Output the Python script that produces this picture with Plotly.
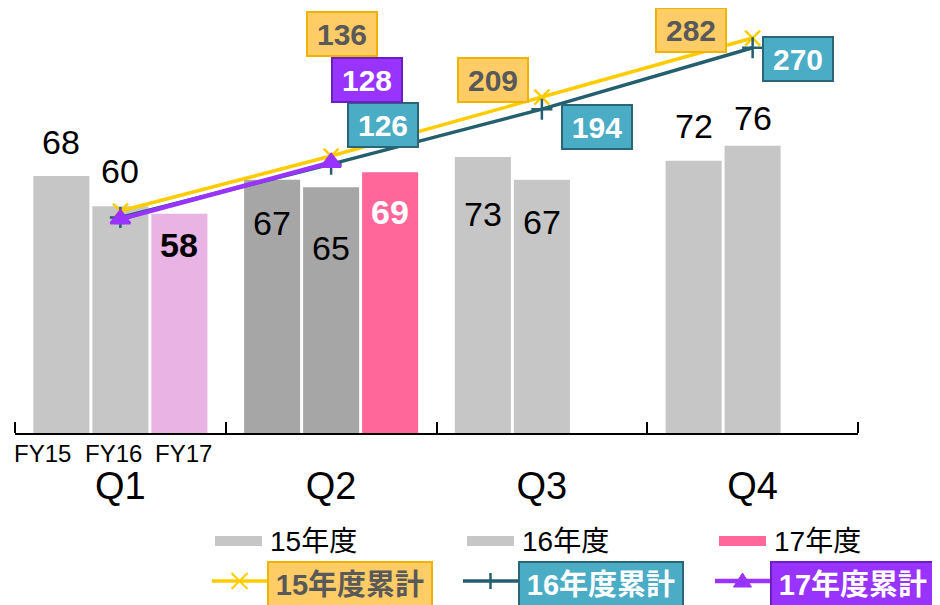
import plotly.graph_objects as go

# ---------------- data ----------------
quarters = ["Q1", "Q2", "Q3", "Q4"]
fy_labels = ["FY15", "FY16", "FY17"]
fy15 = [68, 67, 73, 72]
fy16 = [60, 65, 67, 76]
fy17 = [58, 69, None, None]
cum15 = [68, 136, 209, 282]
cum16 = [60, 126, 194, 270]
cum17 = [58, 128, None, None]
bar_names = ["15年度", "16年度", "17年度"]
line_names = ["15年度累計", "16年度累計", "17年度累計"]

# ---------------- styles ----------------
FONT = "Liberation Sans, Arial, Noto Sans CJK JP, sans-serif"
GRAY = "#c6c6c6"
DGRAY = "#a6a6a6"
LPINK = "#e9b3e3"
PINK = "#ff6699"
GOLD = "#ffcc00"
TEAL = "#245f6e"
PURPLE = "#9933ff"

OFF = 8  # page body margin
W, H = 940, 605
# desired plot area in screen pixels
SX0, SX1, SY0, SY1 = 15, 858, 10, 433
ML, MT = SX0 - OFF, SY0 - OFF
PW, PH = SX1 - SX0, SY1 - SY0
MR, MB = W - ML - PW, H - MT - PH
BARGAP = 0.16
TICKLEN = 11
PX_PER_UNIT_Y1 = 3.78
PX_PER_UNIT_Y2 = 0.8084
Y2_ZERO_SCREEN = 266

y1_max = PH / PX_PER_UNIT_Y1
y2_min = -(SY1 - Y2_ZERO_SCREEN) / PX_PER_UNIT_Y2
y2_max = (Y2_ZERO_SCREEN - SY0) / PX_PER_UNIT_Y2

cat_px = PW / len(quarters)
slot = cat_px * (1 - BARGAP) / 3


def P(x, y):
    """screen pixel -> paper coords"""
    return (x - SX0) / PW, (SY1 - y) / PH


fig = go.Figure()

bar_colors = [
    [GRAY, DGRAY, GRAY, GRAY],
    [GRAY, DGRAY, GRAY, GRAY],
    [LPINK, PINK, PINK, PINK],
]
for name, vals, cols in zip(bar_names, [fy15, fy16, fy17], bar_colors):
    fig.add_trace(go.Bar(x=quarters, y=vals, name=name, marker=dict(color=cols, line=dict(width=0)),
                         yaxis="y", hoverinfo="skip"))

line_styles = [
    dict(color=GOLD, width=3.5, symbol="x-thin", msize=15),
    dict(color=TEAL, width=3.5, symbol="cross-thin", msize=15),
    dict(color=PURPLE, width=4.5, symbol="triangle-up", msize=17),
]
for name, vals, st in zip(line_names, [cum15, cum16, cum17], line_styles):
    fig.add_trace(go.Scatter(
        x=quarters, y=vals, name=name, yaxis="y2", mode="lines+markers",
        line=dict(color=st["color"], width=st["width"]),
        marker=dict(symbol=st["symbol"], size=st["msize"], color=st["color"],
                    line=dict(color=st["color"], width=2.5)),
        connectgaps=False, hoverinfo="skip"))

annotations = []

# bar value labels: (yshift px, bold, color)
bar_label_style = {
    0: [(34, False, "black"), (-43, False, "black"), (-57, False, "black"), (35, False, "black")],
    1: [(35, False, "black"), (-61, False, "black"), (-42, False, "black"), (28, False, "black")],
    2: [(-31, True, "black"), (-40, True, "white"), None, None],
}
for si, vals in enumerate([fy15, fy16, fy17]):
    for qi, v in enumerate(vals):
        if v is None:
            continue
        ys, bold, col = bar_label_style[si][qi]
        txt = f"<b>{v}</b>" if bold else str(v)
        annotations.append(dict(x=quarters[qi], y=v, xref="x", yref="y", text=txt,
                                showarrow=False, xshift=(si - 1) * slot, yshift=ys,
                                yanchor="middle", xanchor="center",
                                font=dict(size=34, color=col, family=FONT)))

# cumulative labels: offsets (dx, dy) per point
cum_label_offsets = [
    [None, (10.5, 121.6), (-49, 17), (-62, 8)],
    [None, (51.5, 39), (55, -18), (45, -11)],
    [None, (35.5, 82.5), None, None],
]
cum_box = [
    dict(bg="#ffcc66", border="#f0b400", fc="#595959"),
    dict(bg="#4bacc6", border="#2a6677", fc="white"),
    dict(bg="#9933ff", border="#6a1fc0", fc="white"),
]
for si, vals in enumerate([cum15, cum16, cum17]):
    for qi, v in enumerate(vals):
        off = cum_label_offsets[si][qi]
        if v is None or off is None:
            continue
        b = cum_box[si]
        annotations.append(dict(x=quarters[qi], y=v, xref="x", yref="y2", text=f"<b>{v}</b>",
                                showarrow=False, xshift=off[0], yshift=off[1],
                                xanchor="center", yanchor="middle",
                                width=64, height=38, borderpad=2, borderwidth=2,
                                bgcolor=b["bg"], bordercolor=b["border"],
                                font=dict(size=30, color=b["fc"], family=FONT)))

# FY labels under Q1
for lab, xs in zip(fy_labels, [-78, -6.5, 63.5]):
    annotations.append(dict(x=quarters[0], xref="x", y=P(0, 453)[1], yref="paper", text=lab,
                            showarrow=False, xshift=xs, xanchor="center", yanchor="middle",
                            font=dict(size=24, color="black", family=FONT)))

shapes = []
# end ticks of the category axis (outer boundaries)
for xe in (0, 1):
    shapes.append(dict(type="line", xref="paper", yref="paper", x0=xe, x1=xe,
                       y0=0, y1=TICKLEN / PH, line=dict(color="black", width=2)))

# legend row 1: bars
leg_bar_cols = [GRAY, GRAY, PINK]
leg_x = [215, 467, 719]
for name, col, lx in zip(bar_names, leg_bar_cols, leg_x):
    x0, y0 = P(lx, 546)
    x1, y1 = P(lx + 47, 536)
    shapes.append(dict(type="rect", xref="paper", yref="paper", x0=x0, x1=x1, y0=y0, y1=y1,
                       fillcolor=col, line=dict(width=0)))
    tx, ty = P(lx + 53, 541)
    annotations.append(dict(x=tx, y=ty, xref="paper", yref="paper", text=name, showarrow=False,
                            xanchor="left", yanchor="middle",
                            font=dict(size=28, color="black", family=FONT)))

# legend row 2: lines
leg_lx = [212, 463, 715]
row2_y = 581
for name, st, lx, b in zip(line_names, line_styles, leg_lx, cum_box):
    x0, y0 = P(lx, row2_y)
    x1, _ = P(lx + 55, row2_y)
    shapes.append(dict(type="line", xref="paper", yref="paper", x0=x0, x1=x1, y0=y0, y1=y0,
                       line=dict(color=st["color"], width=st["width"])))
    cx = lx + 27.5
    if st["symbol"] == "x-thin":
        a = P(cx - 8, row2_y - 8); bb = P(cx + 8, row2_y + 8)
        c = P(cx - 8, row2_y + 8); d = P(cx + 8, row2_y - 8)
        path = f"M {a[0]} {a[1]} L {bb[0]} {bb[1]} M {c[0]} {c[1]} L {d[0]} {d[1]}"
        shapes.append(dict(type="path", xref="paper", yref="paper", path=path,
                           line=dict(color=st["color"], width=2)))
    elif st["symbol"] == "cross-thin":
        a = P(cx, row2_y - 8); bb = P(cx, row2_y + 8)
        path = f"M {a[0]} {a[1]} L {bb[0]} {bb[1]}"
        shapes.append(dict(type="path", xref="paper", yref="paper", path=path,
                           line=dict(color=st["color"], width=2.5)))
    else:
        a = P(cx - 9, row2_y + 6); bb = P(cx + 9, row2_y + 6); c = P(cx, row2_y - 8)
        path = f"M {a[0]} {a[1]} L {bb[0]} {bb[1]} L {c[0]} {c[1]} Z"
        shapes.append(dict(type="path", xref="paper", yref="paper", path=path,
                           fillcolor=st["color"], line=dict(color=st["color"], width=1)))
    bx, by = P(lx + 55, 585)
    annotations.append(dict(x=bx, y=by, xref="paper", yref="paper", text=f"<b>{name}</b>",
                            showarrow=False, xanchor="left", yanchor="middle",
                            width=158, height=40, borderpad=2, borderwidth=2,
                            bgcolor=b["bg"], bordercolor=b["border"],
                            font=dict(size=29, color=b["fc"], family=FONT)))

fig.update_layout(
    width=W, height=H,
    margin=dict(l=ML, r=MR, t=MT, b=MB, pad=0),
    paper_bgcolor="white", plot_bgcolor="white",
    barmode="group", bargap=BARGAP, bargroupgap=0.05,
    showlegend=False,
    font=dict(family=FONT, color="black"),
    xaxis=dict(type="category", categoryorder="array", categoryarray=quarters,
               range=[-0.5, len(quarters) - 0.5],
               showline=True, linecolor="black", linewidth=2,
               ticks="inside", ticklen=TICKLEN, tickwidth=2, tickcolor="black",
               tickson="boundaries", showgrid=False, zeroline=False,
               tickfont=dict(size=38, color="black", family=FONT),
               ticklabelstandoff=18, fixedrange=True),
    yaxis=dict(range=[0, y1_max], visible=False, showgrid=False, zeroline=False, fixedrange=True),
    yaxis2=dict(range=[y2_min, y2_max], overlaying="y", visible=False, showgrid=False,
                zeroline=False, fixedrange=True),
    annotations=annotations,
    shapes=shapes,
)

fig.write_html("out.html")
